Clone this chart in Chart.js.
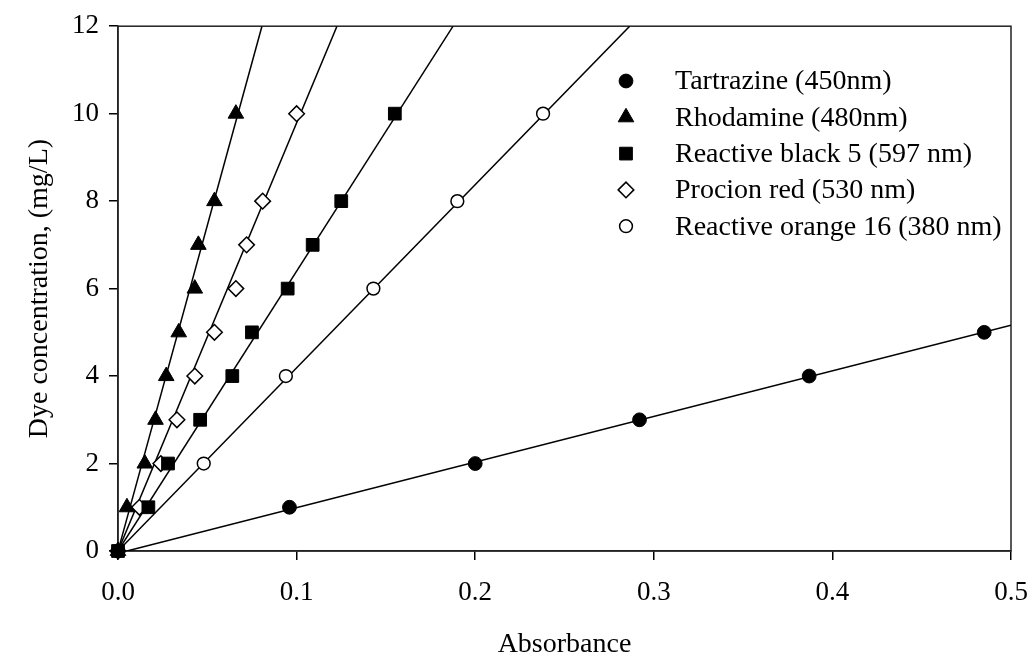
<!DOCTYPE html>
<html lang="en">
<head>
<meta charset="UTF-8">
<title>Dye calibration</title>
<script src="https://cdn.jsdelivr.net/npm/chart.js@4.4.1/dist/chart.umd.min.js"></script>
<style>
  body { margin: 0; background: #fff; }
  #wrap { width: 1030px; height: 659px; }
</style>
</head>
<body>
<div id="wrap"><canvas id="chart" width="1030" height="659"></canvas></div>
<script>
// legend names
const dyeNames = ["Tartrazine (450nm)", "Rhodamine (480nm)", "Reactive black 5 (597 nm)", "Procion red (530 nm)", "Reactive orange 16 (380 nm)"];

// measured points: absorbance (x) vs concentration mg/L (y)
const tartrazineX = [0, 0.096, 0.200, 0.292, 0.387, 0.485];
const tartrazineY = [0, 1, 2, 3, 4, 5];
const rhodamineX = [0, 0.005, 0.015, 0.021, 0.027, 0.034, 0.043, 0.045, 0.054, 0.066];
const rhodamineY = [0, 1, 2, 3, 4, 5, 6, 7, 8, 10];
const black5X = [0, 0.017, 0.028, 0.046, 0.064, 0.075, 0.095, 0.109, 0.125, 0.155];
const black5Y = [0, 1, 2, 3, 4, 5, 6, 7, 8, 10];
const procionX = [0, 0.012, 0.024, 0.033, 0.043, 0.054, 0.066, 0.072, 0.081, 0.100];
const procionY = [0, 1, 2, 3, 4, 5, 6, 7, 8, 10];
const orange16X = [0, 0.048, 0.094, 0.143, 0.190, 0.238];
const orange16Y = [0, 2, 4, 6, 8, 10];

// fitted lines, start and end
const tartrazineFitX = [0.005, 0.5];
const tartrazineFitY = [0, 5.16];
const rhodamineFitX = [0, 0.0806];
const rhodamineFitY = [0, 12];
const black5FitX = [0, 0.1876];
const black5FitY = [0, 12];
const procionFitX = [0, 0.1226];
const procionFitY = [0, 12];
const orange16FitX = [0, 0.2865];
const orange16FitY = [0, 12];

const xTicks = [0, 0.1, 0.2, 0.3, 0.4, 0.5];
const yTicks = [0, 2, 4, 6, 8, 10, 12];

const serif = "'Liberation Serif', 'Times New Roman', serif";

function pts(xs, ys) {
  return xs.map((x, i) => ({x: x, y: ys[i]}));
}

function markers(label, xs, ys, style, r, fill, bw) {
  return {
    label: label,
    data: pts(xs, ys),
    showLine: false,
    pointStyle: style,
    pointRadius: r,
    pointBackgroundColor: fill,
    pointBorderColor: '#000',
    pointBorderWidth: bw,
    clip: false,
    order: 0
  };
}

function fitLine(xs, ys) {
  return {
    data: pts(xs, ys),
    showLine: true,
    borderColor: '#000',
    borderWidth: 1.5,
    pointRadius: 0,
    order: 1
  };
}

const legendBox = {
  id: 'legendBox',
  beforeDatasetsDraw(chart) {
    const ctx = chart.ctx, a = chart.chartArea;
    ctx.save();
    ctx.strokeStyle = '#222';
    ctx.lineWidth = 1.5;
    ctx.strokeRect(a.left, a.top, a.right - a.left, a.bottom - a.top);
    ctx.restore();
  },
  afterDraw(chart) {
    const ctx = chart.ctx;
    ctx.save();
    ctx.font = '28px ' + serif;
    ctx.textBaseline = 'middle';
    ctx.textAlign = 'left';
    for (let i = 0; i < dyeNames.length; i++) {
      const ds = chart.data.datasets[i];
      const y = 81 + i * 36.3;
      ctx.fillStyle = ds.pointBackgroundColor;
      ctx.strokeStyle = '#000';
      ctx.lineWidth = ds.pointBorderWidth;
      Chart.helpers.drawPoint(ctx, {pointStyle: ds.pointStyle, radius: ds.pointRadius, rotation: 0, borderWidth: ds.pointBorderWidth}, 626, y);
      ctx.fillStyle = '#000';
      ctx.fillText(dyeNames[i], 675, y + 1);
    }
    ctx.restore();
  }
};

new Chart(document.getElementById('chart'), {
  type: 'scatter',
  data: {
    datasets: [
      markers(dyeNames[0], tartrazineX, tartrazineY, 'circle', 6.9, '#000', 1),
      markers(dyeNames[1], rhodamineX, rhodamineY, 'triangle', 9, '#000', 1),
      markers(dyeNames[2], black5X, black5Y, 'rect', 9, '#000', 1),
      markers(dyeNames[3], procionX, procionY, 'rectRot', 7.8, '#fff', 1.5),
      markers(dyeNames[4], orange16X, orange16Y, 'circle', 6.4, '#fff', 1.5),
      fitLine(tartrazineFitX, tartrazineFitY),
      fitLine(rhodamineFitX, rhodamineFitY),
      fitLine(black5FitX, black5FitY),
      fitLine(procionFitX, procionFitY),
      fitLine(orange16FitX, orange16FitY)
    ]
  },
  options: {
    responsive: false,
    animation: false,
    layout: { padding: { top: 25, right: 19, left: 0, bottom: 0 } },
    plugins: { legend: { display: false }, tooltip: { enabled: false } },
    scales: {
      x: {
        type: 'linear', min: 0, max: 0.5,
        afterBuildTicks: s => { s.ticks = xTicks.map(v => ({value: v})); },
        afterFit: s => { s.height = 108; s.paddingLeft = 0; s.paddingRight = 0; },
        grid: { drawOnChartArea: false, tickLength: 9, color: '#000', lineWidth: 1.5 },
        border: { color: '#222', width: 1.5 },
        ticks: { color: '#000', font: { family: serif, size: 27 }, padding: 17, maxRotation: 0,
                 callback: v => Number(v).toFixed(1) },
        title: { display: true, text: 'Absorbance', color: '#000', font: { family: serif, size: 28, lineHeight: 1.0 },
                 padding: { top: 0, bottom: 0 } }
      },
      y: {
        type: 'linear', min: 0, max: 12,
        afterBuildTicks: s => { s.ticks = yTicks.map(v => ({value: v})); },
        afterFit: s => { s.width = 118; },
        grid: { drawOnChartArea: false, tickLength: 9, color: '#000', lineWidth: 1.5 },
        border: { color: '#222', width: 1.5 },
        ticks: { color: '#000', font: { family: serif, size: 27 }, padding: 10 },
        title: { display: true, text: 'Dye concentration, (mg/L)', color: '#000', font: { family: serif, size: 28 },
                 padding: { top: 23, bottom: 0 } }
      }
    }
  },
  plugins: [legendBox]
});
</script>
</body>
</html>
